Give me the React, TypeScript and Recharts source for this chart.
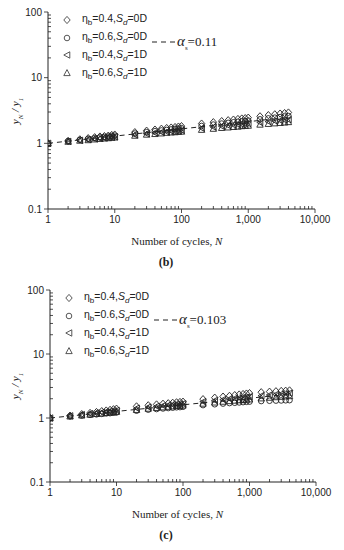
import { ScatterChart, Scatter, XAxis, YAxis } from 'recharts';

// number of cycles at which y_N / y_1 was recorded
const cycles = [1, 2, 3, 4, 5, 6, 7, 8, 9, 10, 20, 30, 40, 50, 60, 70, 80, 90, 100, 200, 300, 400, 500, 600, 700, 800, 900, 1000, 1500, 2000, 2500, 3000, 3500, 4000];

// panel (b)
const bDiamond = [1, 1.09, 1.15, 1.2, 1.24, 1.27, 1.29, 1.31, 1.34, 1.36, 1.48, 1.56, 1.62, 1.67, 1.71, 1.74, 1.77, 1.8, 1.83, 2.0, 2.1, 2.18, 2.25, 2.3, 2.35, 2.39, 2.42, 2.46, 2.58, 2.69, 2.77, 2.84, 2.89, 2.95];
const bCircle = [1, 1.08, 1.13, 1.17, 1.2, 1.23, 1.25, 1.27, 1.29, 1.31, 1.41, 1.48, 1.53, 1.57, 1.6, 1.63, 1.66, 1.68, 1.7, 1.84, 1.93, 2.0, 2.05, 2.09, 2.13, 2.16, 2.19, 2.22, 2.32, 2.4, 2.46, 2.51, 2.56, 2.6];
const bLeftTri = [1, 1.07, 1.11, 1.14, 1.17, 1.19, 1.21, 1.23, 1.24, 1.26, 1.35, 1.4, 1.44, 1.48, 1.5, 1.53, 1.55, 1.56, 1.58, 1.7, 1.77, 1.82, 1.86, 1.9, 1.93, 1.95, 1.98, 2.0, 2.08, 2.14, 2.19, 2.23, 2.26, 2.29];
const bTriangle = [1, 1.06, 1.1, 1.12, 1.15, 1.17, 1.19, 1.2, 1.22, 1.23, 1.31, 1.36, 1.39, 1.42, 1.45, 1.47, 1.48, 1.5, 1.51, 1.61, 1.67, 1.72, 1.75, 1.78, 1.8, 1.83, 1.85, 1.86, 1.93, 1.98, 2.02, 2.05, 2.08, 2.11];
const bFitN = [1, 4000];
const bFitY = [1, 2.49];

// panel (c)
const cDiamond = [1, 1.09, 1.15, 1.2, 1.24, 1.28, 1.31, 1.34, 1.37, 1.4, 1.52, 1.58, 1.63, 1.67, 1.7, 1.73, 1.76, 1.78, 1.8, 1.97, 2.08, 2.16, 2.22, 2.28, 2.33, 2.37, 2.41, 2.45, 2.53, 2.58, 2.62, 2.65, 2.67, 2.7];
const cCircle = [1, 1.06, 1.09, 1.12, 1.14, 1.16, 1.18, 1.19, 1.21, 1.22, 1.3, 1.35, 1.38, 1.41, 1.43, 1.45, 1.47, 1.48, 1.5, 1.59, 1.64, 1.68, 1.71, 1.73, 1.75, 1.77, 1.79, 1.8, 1.84, 1.86, 1.87, 1.88, 1.89, 1.9];
const cLeftTri = [1, 1.08, 1.13, 1.17, 1.2, 1.23, 1.25, 1.27, 1.29, 1.31, 1.42, 1.48, 1.52, 1.56, 1.59, 1.61, 1.63, 1.65, 1.67, 1.8, 1.88, 1.94, 1.99, 2.03, 2.06, 2.09, 2.12, 2.14, 2.23, 2.29, 2.34, 2.38, 2.41, 2.44];
const cTriangle = [1, 1.06, 1.1, 1.13, 1.16, 1.18, 1.2, 1.22, 1.23, 1.25, 1.34, 1.4, 1.44, 1.47, 1.5, 1.52, 1.54, 1.56, 1.57, 1.68, 1.75, 1.8, 1.84, 1.87, 1.9, 1.92, 1.94, 1.96, 2.03, 2.08, 2.12, 2.15, 2.18, 2.2];
const cFitN = [1, 4000];
const cFitY = [1, 2.35];

const xMajor = [1, 10, 100, 1000, 10000];
const xMinor = [2, 3, 4, 5, 6, 7, 8, 9, 20, 30, 40, 50, 60, 70, 80, 90, 200, 300, 400, 500, 600, 700, 800, 900, 2000, 3000, 4000, 5000, 6000, 7000, 8000, 9000];
const xLabels = ['1', '10', '100', '1,000', '10,000'];
const yMajor = [0.1, 1, 10, 100];
const yMinor = [0.2, 0.3, 0.4, 0.5, 0.6, 0.7, 0.8, 0.9, 2, 3, 4, 5, 6, 7, 8, 9, 20, 30, 40, 50, 60, 70, 80, 90];
const yLabels = ['0.1', '1', '10', '100'];

const legendNames = [
  { kind: 'diamond', eta: '0.4', sd: '0D' },
  { kind: 'circle', eta: '0.6', sd: '0D' },
  { kind: 'left', eta: '0.4', sd: '1D' },
  { kind: 'up', eta: '0.6', sd: '1D' },
];

const INK = '#222';
const SANS = '"Liberation Sans", Arial, sans-serif';
const SERIF = '"Liberation Serif", "Times New Roman", serif';

const pts = (xs: number[], ys: number[]) => xs.map((x, i) => ({ x, y: ys[i] }));

function Marker({ kind, cx, cy, color = INK }: { kind: string; cx: number; cy: number; color?: string }) {
  const s = { fill: 'none', stroke: color, strokeWidth: 0.9 };
  if (kind === 'diamond') return <polygon points={`${cx},${cy - 3.6} ${cx + 3.2},${cy} ${cx},${cy + 3.6} ${cx - 3.2},${cy}`} {...s} />;
  if (kind === 'circle') return <circle cx={cx} cy={cy} r={2.8} {...s} />;
  if (kind === 'left') return <polygon points={`${cx - 3.2},${cy} ${cx + 2.8},${cy - 3.2} ${cx + 2.8},${cy + 3.2}`} {...s} />;
  return <polygon points={`${cx},${cy - 3.4} ${cx + 3.2},${cy + 2.6} ${cx - 3.2},${cy + 2.6}`} {...s} />;
}

const shapeOf = (kind: string) => (p: any) => <Marker kind={kind} cx={p.cx} cy={p.cy} />;

function XTick({ x, y, payload }: any) {
  const i = xMajor.indexOf(payload.value);
  const major = i >= 0;
  return (
    <g>
      <line x1={x} x2={x} y1={y} y2={major ? y + 4 : y - 3} stroke={INK} strokeWidth={0.8} />
      {major && (
        <text x={x} y={y + 14} textAnchor="middle" style={{ fontFamily: SANS, fontSize: 10 }} fill={INK}>
          {xLabels[i]}
        </text>
      )}
    </g>
  );
}

function YTick({ x, y, payload }: any) {
  const i = yMajor.indexOf(payload.value);
  const major = i >= 0;
  return (
    <g>
      <line x1={x} x2={major ? x - 4 : x + 3} y1={y} y2={y} stroke={INK} strokeWidth={0.8} />
      {major && (
        <text x={x - 6} y={y + 3.5} textAnchor="end" style={{ fontFamily: SANS, fontSize: 10 }} fill={INK}>
          {yLabels[i]}
        </text>
      )}
    </g>
  );
}

interface PanelProps {
  top: number;
  plotLeft: number;
  plotRight: number;
  plotTop: number;
  plotBottom: number;
  series: number[][];
  fitN: number[];
  fitY: number[];
  alpha: string;
  caption: string;
}

function Panel({ top, plotLeft, plotRight, plotTop, plotBottom, series, fitN, fitY, alpha, caption }: PanelProps) {
  const h = 250;
  const kinds = ['diamond', 'circle', 'left', 'up'];
  return (
    <div style={{ position: 'absolute', left: 0, top, width: 344, height: h }}>
      <ScatterChart width={344} height={h} margin={{ top: plotTop, right: 344 - plotRight, left: 0, bottom: 0 }}>
        <XAxis
          type="number"
          dataKey="x"
          scale="log"
          domain={[1, 10000]}
          allowDataOverflow
          ticks={[...xMajor, ...xMinor]}
          interval={0}
          tick={XTick}
          tickLine={false}
          tickSize={0}
          tickMargin={0}
          height={h - plotBottom}
          axisLine={{ stroke: INK, strokeWidth: 1 }}
        />
        <YAxis
          type="number"
          dataKey="y"
          scale="log"
          domain={[0.1, 100]}
          allowDataOverflow
          ticks={[...yMajor, ...yMinor]}
          interval={0}
          tick={YTick}
          tickLine={false}
          tickSize={0}
          tickMargin={0}
          width={plotLeft}
          axisLine={{ stroke: INK, strokeWidth: 1 }}
        />
        <Scatter
          data={pts(fitN, fitY)}
          line={{ stroke: INK, strokeWidth: 1, strokeDasharray: '5 4' }}
          shape={() => <g />}
          isAnimationActive={false}
        />
        {series.map((ys, k) => (
          <Scatter key={k} data={pts(cycles, ys)} shape={shapeOf(kinds[k])} isAnimationActive={false} />
        ))}
      </ScatterChart>

      {/* legend */}
      {legendNames.map((l, i) => (
        <div key={i} style={{ position: 'absolute', left: plotLeft + 14, top: plotTop + 1 + i * 17.7, height: 14, display: 'flex', alignItems: 'center' }}>
          <svg width={10} height={10} style={{ marginRight: 10 }}>
            <Marker kind={l.kind} cx={5} cy={5} color="#444" />
          </svg>
          <span style={{ fontFamily: SANS, fontSize: 10.5, color: INK, whiteSpace: 'nowrap' }}>
            η<sub style={{ fontSize: 8 }}>b</sub>={l.eta},<i>S<sub style={{ fontSize: 8 }}>d</sub></i>={l.sd}
          </span>
        </div>
      ))}
      <div style={{ position: 'absolute', left: plotLeft + 104, top: plotTop + 21, height: 18, display: 'flex', alignItems: 'center', whiteSpace: 'nowrap' }}>
        <svg width={24} height={4} style={{ marginRight: 1 }}>
          <line x1={0} x2={24} y1={2} y2={2} stroke={INK} strokeWidth={1} strokeDasharray="5 4" />
        </svg>
        <span style={{ fontFamily: SERIF, fontSize: 13, color: INK }}>
          <i style={{ fontSize: 15 }}>α</i>
          <sub style={{ fontSize: 7 }}>s</sub>={alpha}
        </span>
      </div>

      {/* y axis title */}
      <div
        style={{
          position: 'absolute',
          left: 17,
          top: (plotTop + plotBottom) / 2,
          transform: 'translate(-50%, -50%) rotate(-90deg)',
          fontFamily: SERIF,
          fontSize: 11,
          fontStyle: 'italic',
          color: INK,
          whiteSpace: 'nowrap',
        }}
      >
        y<sub style={{ fontSize: 7 }}>N</sub> / y<sub style={{ fontSize: 7 }}>1</sub>
      </div>

      {/* x axis title and caption */}
      <div style={{ position: 'absolute', left: 0, width: 344, top: plotBottom + 22, textAlign: 'center', paddingLeft: (plotLeft + plotRight) / 2 - 172, boxSizing: 'border-box' }}>
        <span style={{ fontFamily: SERIF, fontSize: 11, color: INK }}>
          Number of cycles, <i>N</i>
        </span>
      </div>
      <div style={{ position: 'absolute', left: 0, width: 344, top: plotBottom + 43, textAlign: 'center', paddingRight: 12, boxSizing: 'border-box' }}>
        <span style={{ fontFamily: SERIF, fontSize: 12, fontWeight: 'bold', color: INK }}>{caption}</span>
      </div>
    </div>
  );
}

export default function App() {
  return (
    <div style={{ position: 'absolute', left: 0, top: 0, width: 344, height: 550, background: '#fff' }}>
      <Panel
        top={0}
        plotLeft={48}
        plotRight={315}
        plotTop={12}
        plotBottom={209}
        series={[bDiamond, bCircle, bLeftTri, bTriangle]}
        fitN={bFitN}
        fitY={bFitY}
        alpha="0.11"
        caption="(b)"
      />
      <Panel
        top={270}
        plotLeft={50}
        plotRight={316}
        plotTop={20}
        plotBottom={212}
        series={[cDiamond, cCircle, cLeftTri, cTriangle]}
        fitN={cFitN}
        fitY={cFitY}
        alpha="0.103"
        caption="(c)"
      />
    </div>
  );
}
